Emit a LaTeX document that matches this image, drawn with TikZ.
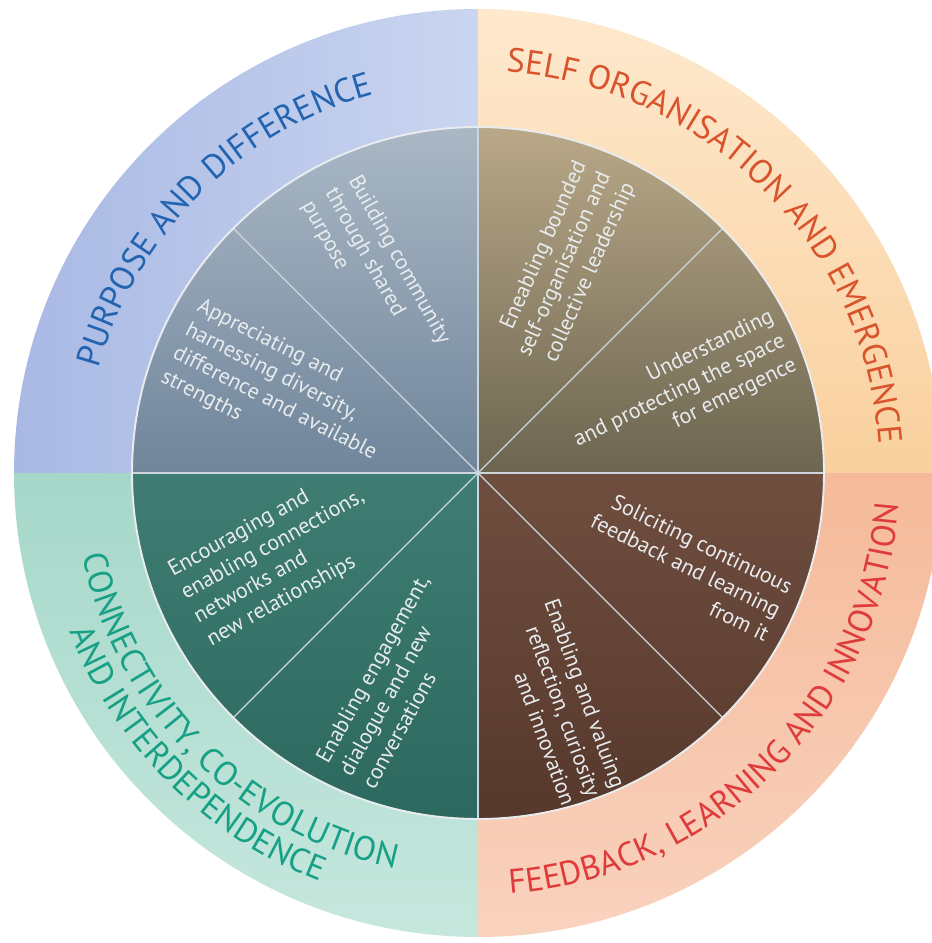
\documentclass[tikz,border=0pt]{standalone}
\usepackage{fontspec}
\setmainfont{PT Sans}
\usetikzlibrary{decorations.text}

\definecolor{ringblueA}{HTML}{A9B9E4}
\definecolor{ringblueB}{HTML}{CAD5F0}
\definecolor{ringorangeA}{HTML}{FEE9CE}
\definecolor{ringorangeB}{HTML}{F9D09E}
\definecolor{ringtealA}{HTML}{A6D8CA}
\definecolor{ringtealB}{HTML}{C6E7DD}
\definecolor{ringsalmonA}{HTML}{F9D2BE}
\definecolor{ringsalmonB}{HTML}{F5BA9A}
\definecolor{greyblueA}{HTML}{AAB8C5}
\definecolor{greyblueB}{HTML}{70859B}
\definecolor{tanA}{HTML}{B9A888}
\definecolor{tanB}{HTML}{6C6550}
\definecolor{tealA}{HTML}{3F7D73}
\definecolor{tealB}{HTML}{2C685E}
\definecolor{brownA}{HTML}{6F4E3F}
\definecolor{brownB}{HTML}{56382C}
\definecolor{purposeblue}{HTML}{2264B0}
\definecolor{selforange}{HTML}{D9542C}
\definecolor{feedbackred}{HTML}{DF3B3A}
\definecolor{connectteal}{HTML}{16A085}
\definecolor{sectorwhite}{HTML}{E8ECEE}
\definecolor{dividergrey}{HTML}{CDD6DC}

\newcommand\ringfont{\fontsize{19.3}{21}\selectfont}
\newcommand\sectorfont{\fontsize{12.5}{15.1}\selectfont}

\begin{document}
\begin{tikzpicture}[scale=0.02,
  sector/.style={font=\sectorfont, text=sectorwhite, inner sep=0pt},
  divider/.style={draw=dividergrey, line width=0.8pt}]

\useasboundingbox (-478,-470) rectangle (454,473);
\clip (-478,-470) rectangle (454,473);

\coordinate (hub) at (0,0);

%% outer ring, one quarter each
\shade[left color=ringblueA, right color=ringblueB]
  (hub) -- (90:464) arc[start angle=90, end angle=180, radius=464] -- cycle;     %% purpose
\shade[top color=ringorangeA, bottom color=ringorangeB]
  (hub) -- (0:464) arc[start angle=0, end angle=90, radius=464] -- cycle;        %% self organisation
\shade[top color=ringtealA, bottom color=ringtealB]
  (hub) -- (180:464) arc[start angle=180, end angle=270, radius=464] -- cycle;   %% connectivity
\shade[top color=ringsalmonB, bottom color=ringsalmonA]
  (hub) -- (270:464) arc[start angle=270, end angle=360, radius=464] -- cycle;   %% feedback

%% inner disc, one quarter each
\shade[top color=greyblueA, bottom color=greyblueB]
  (hub) -- (90:346) arc[start angle=90, end angle=180, radius=346] -- cycle;
\shade[top color=tanA, bottom color=tanB]
  (hub) -- (0:346) arc[start angle=0, end angle=90, radius=346] -- cycle;
\shade[top color=tealA, bottom color=tealB]
  (hub) -- (180:346) arc[start angle=180, end angle=270, radius=346] -- cycle;
\shade[top color=brownA, bottom color=brownB]
  (hub) -- (270:346) arc[start angle=270, end angle=360, radius=346] -- cycle;

%% dividers
\foreach \a in {0,45,...,315}
  \draw[divider] (hub) -- (\a:346);
\draw[draw=sectorwhite, line width=1.1pt] (hub) circle[radius=346];

%% ring labels
\path[decorate, decoration={text along path, text align=center,
    text={|\ringfont\color{purposeblue}|PURPOSE AND DIFFERENCE}}]
  (180:393) arc[start angle=180, end angle=90, radius=393];
\path[decorate, decoration={text along path, text align=center,
    text={|\ringfont\color{selforange}|SELF ORGANISATION AND EMERGENCE}}]
  (90:402) arc[start angle=90, end angle=0, radius=402];
\path[decorate, decoration={text along path, text align=center,
    text={|\ringfont\color{feedbackred}|FEEDBACK, LEARNING AND INNOVATION}}]
  (270:422) arc[start angle=270, end angle=360, radius=422];
\path[decorate, decoration={text along path, text align=center,
    text={|\ringfont\color{connectteal}|CONNECTIVITY, CO-EVOLUTION}}]
  (180:404) arc[start angle=180, end angle=270, radius=404];
\path[decorate, decoration={text along path, text align=center,
    text={|\ringfont\color{connectteal}|AND INTERDEPENDENCE}}]
  (180:438) arc[start angle=180, end angle=270, radius=438];

%% sector texts
\node[sector, align=left, anchor=north west, rotate=-61] (building) at (-116,301)
  {Building community\\through shared\\purpose};
\node[sector, align=left, anchor=north west, rotate=-27] (appreciating) at (-275,177)
  {Appreciating and\\harnessing diversity,\\difference and available\\strengths};
\node[sector, align=left, anchor=north west, rotate=29] (encouraging) at (-313,-90)
  {Encouraging and\\enabling connections,\\networks and\\new relationships};
\node[sector, align=left, anchor=north west, rotate=61] (engagement) at (-164,-284)
  {Enabling engagement,\\dialogue and new\\conversations};
\node[sector, align=right, anchor=north east, rotate=-70] (valuing) at (149,-311)
  {Enabling and valuing\\reflection, curiosity\\and innovation};
\node[sector, align=right, anchor=north east, rotate=-26] (soliciting) at (317,-107)
  {Soliciting continuous\\feedback and learning\\from it};
\node[sector, align=right, anchor=north east, rotate=26] (understanding) at (290,166)
  {Understanding\\and protecting the space\\for emergence};
\node[sector, align=right, anchor=north east, rotate=66] (eneabling) at (94,315)
  {Eneabling bounded\\self-organisation and\\collective leadership};

\end{tikzpicture}
\end{document}
